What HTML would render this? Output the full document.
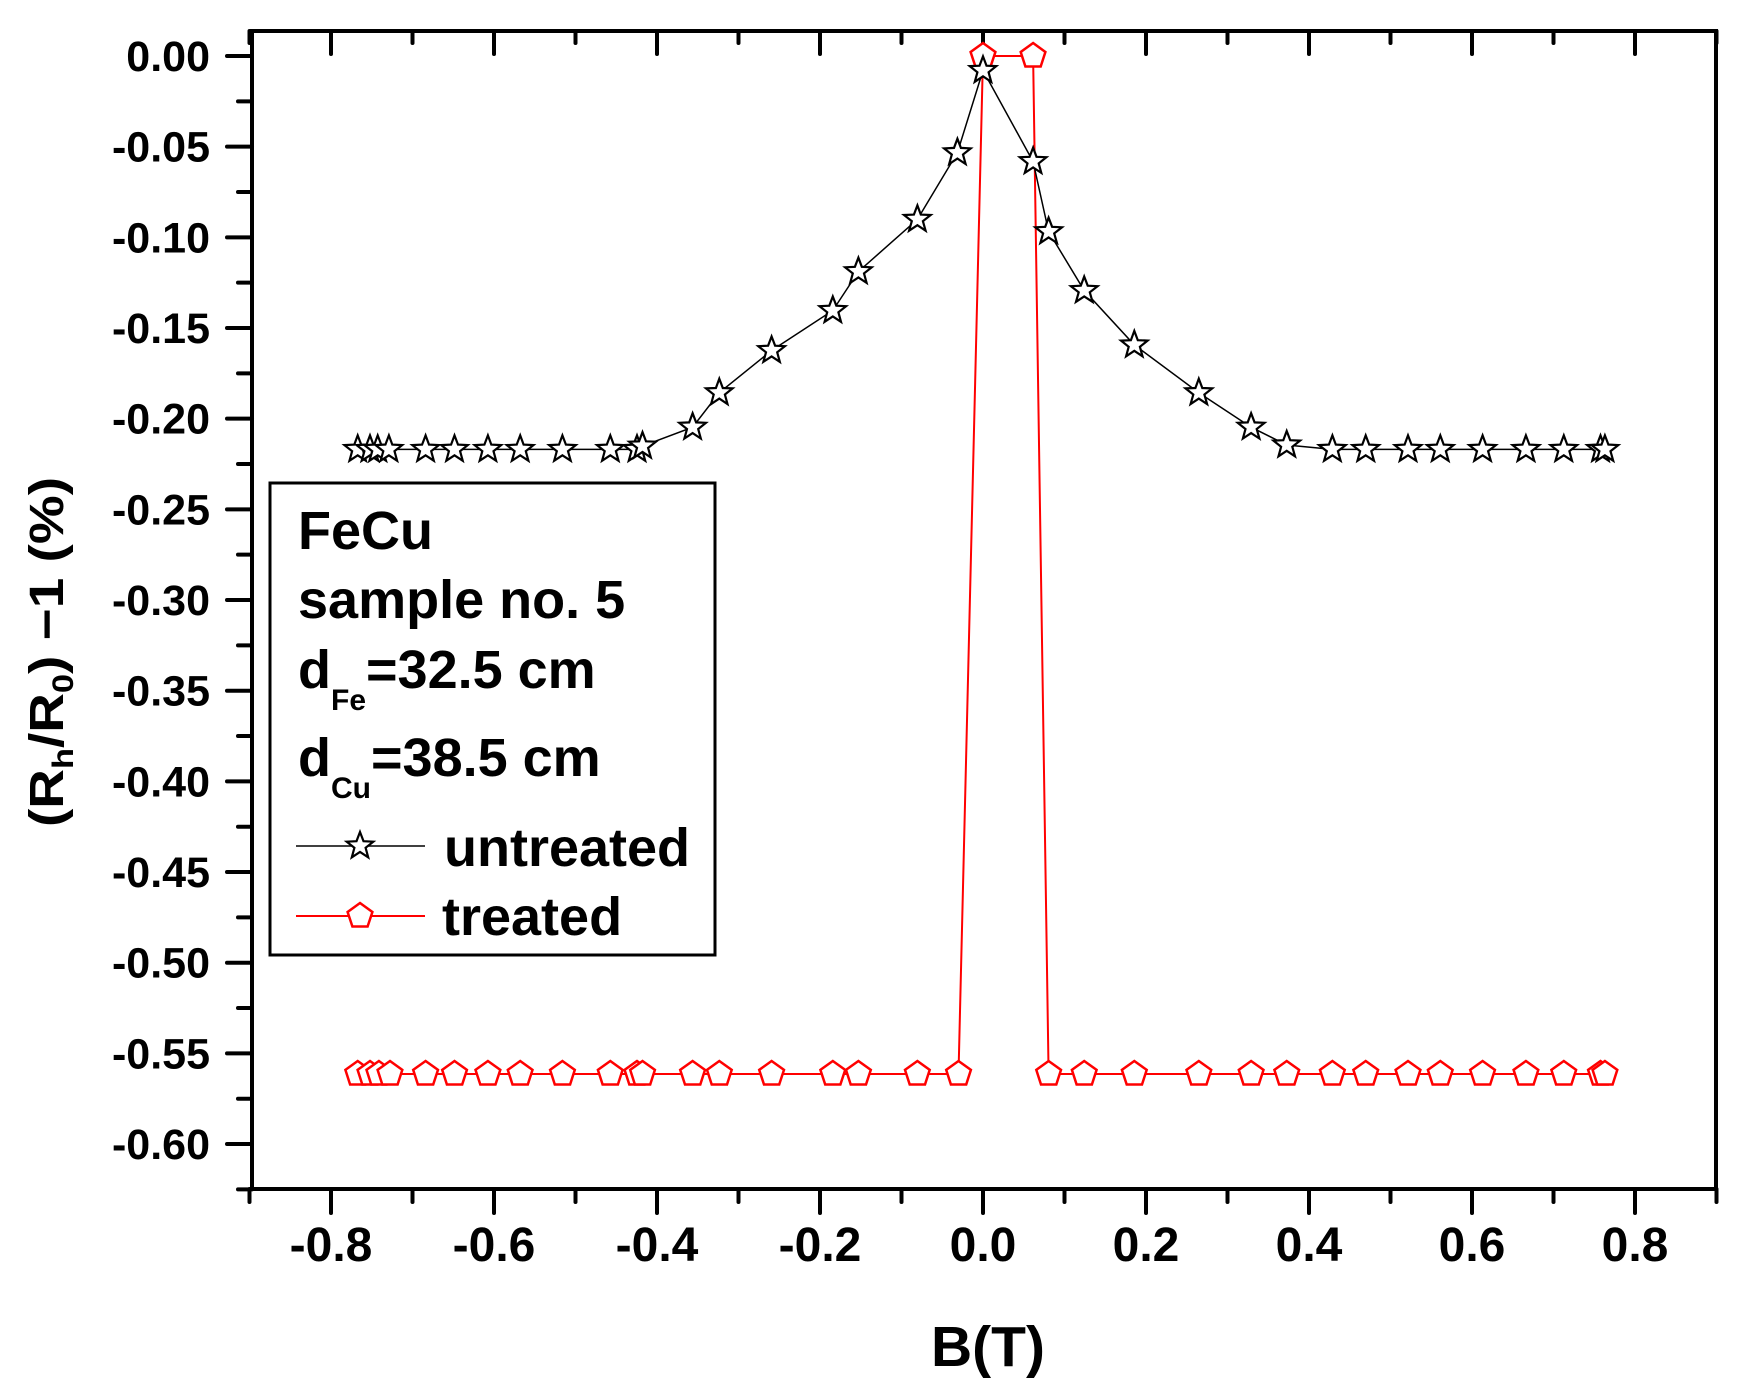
<!DOCTYPE html>
<html><head><meta charset="utf-8"><style>
html,body{margin:0;padding:0;background:#fff;}
svg{display:block;font-family:"Liberation Sans",Arial,sans-serif;font-weight:bold;}
</style></head><body>
<svg id="s" width="1744" height="1383" viewBox="0 0 1744 1383" xmlns="http://www.w3.org/2000/svg">
<rect x="0" y="0" width="1744" height="1383" fill="#fff"/>
<g id="axes" stroke="#000" stroke-width="4" fill="none" stroke-linecap="round">
<rect x="252" y="31" width="1464" height="1158"/>
</g>
<g id="ticks" stroke="#000" stroke-width="4" stroke-linecap="round"></g>
<g id="labels" font-size="43" text-anchor="end"></g>
<g id="xlabels" font-size="48" text-anchor="middle"></g>
<g id="data"></g>
<text x="988" y="1366" font-size="57" text-anchor="middle">B(T)</text>
<text transform="translate(63,827) rotate(-90)" font-size="48" textLength="350" lengthAdjust="spacingAndGlyphs">(R<tspan font-size="30" dy="10">h</tspan><tspan dy="-10">/R</tspan><tspan font-size="30" dy="10">0</tspan><tspan dy="-10">) −1 (%)</tspan></text>
<rect x="270" y="483" width="445" height="472" fill="#fff" stroke="#000" stroke-width="3"/>
<g font-size="54">
<text x="298" y="549">FeCu</text>
<text x="298" y="618">sample no. 5</text>
<text x="298" y="688">d<tspan font-size="30" dy="22">Fe</tspan><tspan dy="-22">=32.5 cm</tspan></text>
<text x="298" y="776">d<tspan font-size="30" dy="22">Cu</tspan><tspan dy="-22">=38.5 cm</tspan></text>
<text x="444" y="866">untreated</text>
<text x="442" y="935">treated</text>
</g>
<line x1="296" y1="846" x2="425" y2="846" stroke="#000" stroke-width="1.5"/>
<line x1="296" y1="916" x2="425" y2="916" stroke="#f00" stroke-width="2"/>
<g id="leg"></g>
</svg>
<script>
var NS="http://www.w3.org/2000/svg";
function el(p,t,a){var e=document.createElementNS(NS,t);for(var k in a)e.setAttribute(k,a[k]);p.appendChild(e);return e;}
var X=function(v){return 983+815*v;}, Y=function(v){return 56-1813.4*v;};
var tk=document.getElementById('ticks'),lb=document.getElementById('labels'),xl=document.getElementById('xlabels');
for(var i=0;i<=12;i++){var y=Y(-0.05*i);el(tk,'line',{x1:227,y1:y,x2:252,y2:y});
 var t=el(lb,'text',{x:210,y:y+15});t.textContent=(i==0?'':'-')+(0.05*i).toFixed(2);
 if(i<12){var ym=Y(-0.05*i-0.025);el(tk,'line',{x1:238,y1:ym,x2:252,y2:ym});}}
var ym=Y(-0.625);el(tk,'line',{x1:238,y1:ym,x2:252,y2:ym});
for(var i=-9;i<=9;i++){var v=i*0.1,x=X(v);var major=(i%2==0);
 el(tk,'line',{x1:x,y1:1189,x2:x,y2:major?1213:1202});
 el(tk,'line',{x1:x,y1:31,x2:x,y2:major?54:43});
 if(major){var t=el(xl,'text',{x:x,y:1261});t.textContent=(v<0?'-':'')+Math.abs(v).toFixed(1);}}
function cx(d){return 983+(d-884)*1.1126;} function cy(d){return 56+(d-49)*1.1113;}
var S=[[322,403],[333,403],[340,403],[350,403],[383,403],[409,403],[439,403],[468,403],[506,403],[549,403],[573,403],[578,400],[623,383],[647,352],[694,314],[749,278],[772,243],[825,196],[861,136],[884,62],[929,144],[943,207],[975,260],[1020,309],[1078,352],[1125,383],[1157,399],[1198,403],[1228,403],[1266,403],[1295,403],[1333,403],[1372,403],[1406,403],[1439,403],[1443,403]];
var Pxs=[322,333,341,351,383,409,439,468,506,549,573,578,623,647,694,749,772,825,862];
var P=Pxs.map(function(x){return [x,965];});P.push([884,49]);P.push([929,49]);
[943,975,1020,1078,1125,1157,1198,1228,1266,1295,1333,1372,1406,1439,1443].forEach(function(x){P.push([x,965]);});
var g=document.getElementById('data');
function star(p,x,y,r,c){var pts=[];for(var k=0;k<10;k++){var a=-Math.PI/2+k*Math.PI/5,rr=k%2?r*0.42:r;pts.push((x+rr*Math.cos(a)).toFixed(1)+','+(y+rr*Math.sin(a)).toFixed(1));}
 el(p,'polygon',{points:pts.join(' '),fill:'#fff',stroke:c,'stroke-width':2.2,'stroke-linejoin':'miter'});}
function pent(p,x,y,r,c){var pts=[];for(var k=0;k<5;k++){var a=-Math.PI/2+k*2*Math.PI/5;pts.push((x+r*Math.cos(a)).toFixed(1)+','+(y+r*Math.sin(a)).toFixed(1));}
 el(p,'polygon',{points:pts.join(' '),fill:'#fff',stroke:c,'stroke-width':2.5});}
el(g,'polyline',{points:P.map(function(p){return cx(p[0]).toFixed(1)+','+cy(p[1]).toFixed(1);}).join(' '),fill:'none',stroke:'#f00','stroke-width':2});
el(g,'polyline',{points:S.map(function(p){return cx(p[0]).toFixed(1)+','+cy(p[1]).toFixed(1);}).join(' '),fill:'none',stroke:'#000','stroke-width':1.5});
P.forEach(function(p){pent(g,cx(p[0]),cy(p[1]),13,'#f00');});
S.forEach(function(p){star(g,cx(p[0]),cy(p[1]),14,'#000');});
var lg=document.getElementById('leg');star(lg,360,846,14,'#000');pent(lg,360,916,13,'#f00');
</script>
</body></html>
